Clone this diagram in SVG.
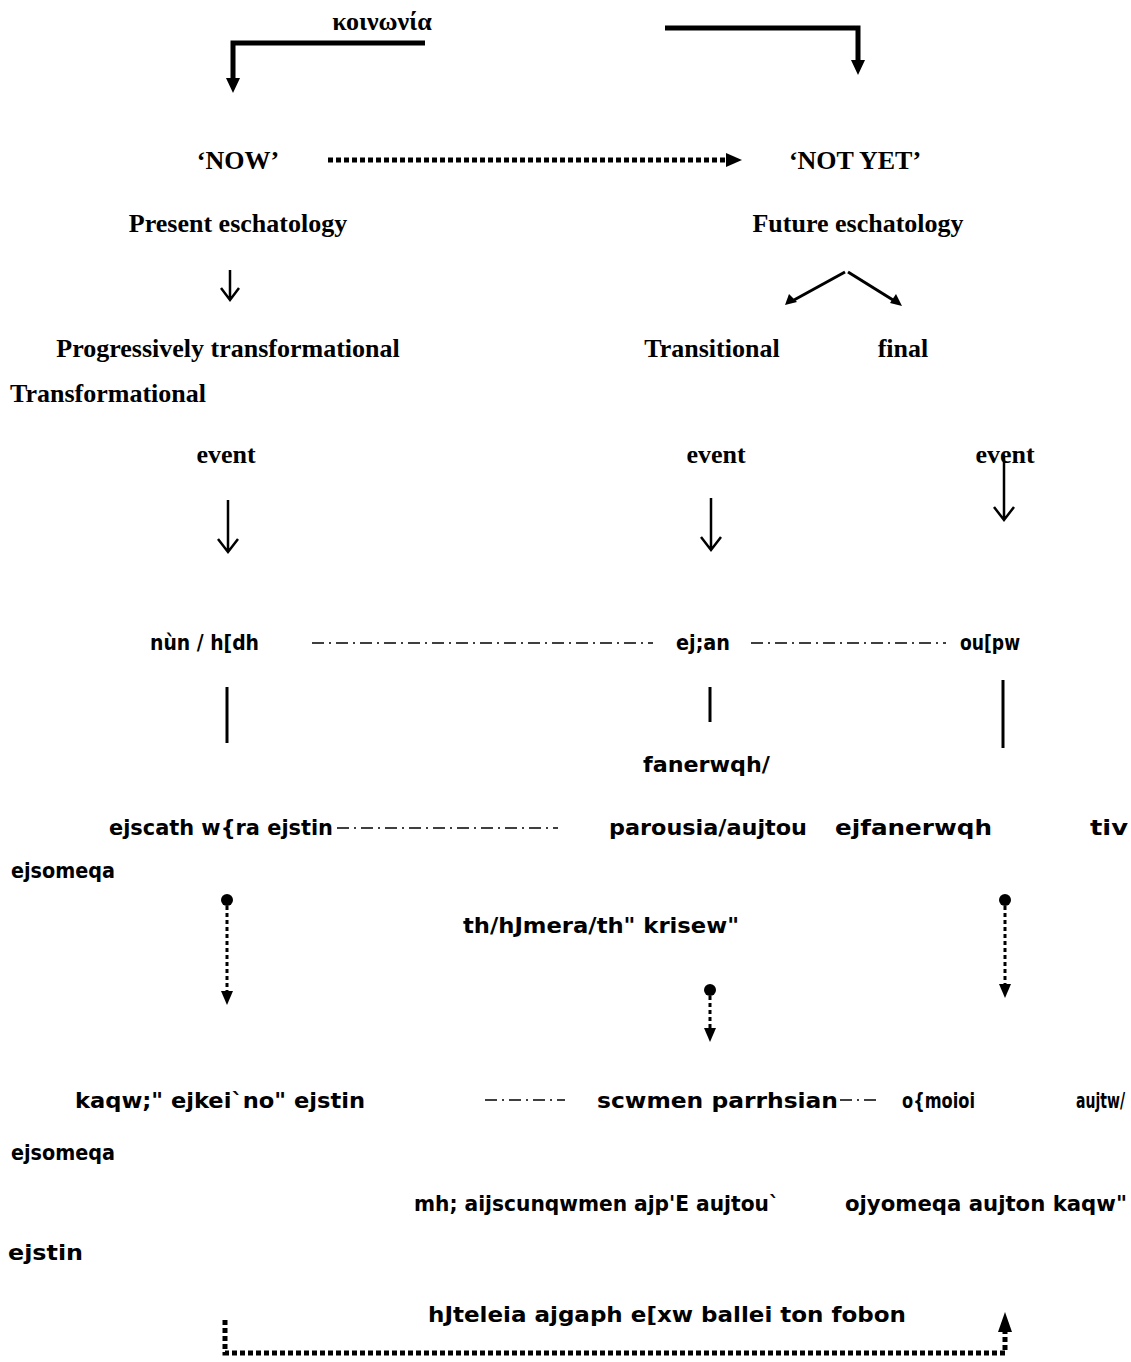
<svg xmlns="http://www.w3.org/2000/svg" width="1131" height="1362" viewBox="0 0 1131 1362">
<style>
.s{font-family:"Liberation Serif","Times New Roman",serif;font-weight:bold;font-size:26px;fill:#000}
.g{font-family:"DejaVu Sans Condensed","Liberation Sans",sans-serif;font-weight:bold;font-size:22px;fill:#000}
.thick{fill:none;stroke:#000;stroke-width:5}
.thin{fill:none;stroke:#000;stroke-width:2.5}
.dd{fill:none;stroke:#000;stroke-width:1.5;stroke-dasharray:12 5 2 5}
.dot{fill:none;stroke:#000;stroke-width:5;stroke-dasharray:5 3}
.dot3{fill:none;stroke:#000;stroke-width:3;stroke-dasharray:4 3}
.bar{fill:none;stroke:#000;stroke-width:3}
</style>
<rect width="1131" height="1362" fill="#fff"/>

<g id="connectors">
  <path class="thick" d="M425,43 H233 V80"/>
  <path d="M226,78 L240,78 L233,93 Z"/>
  <path class="thick" d="M665,28 H858 V62"/>
  <path d="M851,60 L865,60 L858,75 Z"/>
  <path class="dot" d="M328,160 H728"/>
  <path d="M726,153 L742,160 L726,167 Z"/>
  <path class="thin" d="M230,270 V300 M221,288 L230,300 L239,288"/>
  <path class="bar" d="M845,272 L794,300"/>
  <path d="M785,305 L789,294 L797,302 Z"/>
  <path class="bar" d="M848,272 L893,300"/>
  <path d="M902,306 L890,303 L896,294 Z"/>
  <path class="thin" d="M228,500 V552 M218,539 L228,552 L238,539"/>
  <path class="thin" d="M711,498 V550 M701,537 L711,550 L721,537"/>
  <path class="thin" d="M1004,455 V520 M994,507 L1004,520 L1014,507"/>
  <path class="dd" d="M312,643 H653"/>
  <path class="dd" d="M751,643 H946"/>
  <path class="bar" d="M227,687 V743"/>
  <path class="bar" d="M710,687 V722"/>
  <path class="bar" d="M1003,680 V748"/>
  <path class="dd" d="M337,828 H558"/>
  <circle cx="227" cy="900" r="6"/>
  <path class="dot3" d="M227,906 V992"/>
  <path d="M221,991 L233,991 L227,1005 Z"/>
  <circle cx="1005" cy="900" r="6"/>
  <path class="dot3" d="M1005,906 V985"/>
  <path d="M999,984 L1011,984 L1005,998 Z"/>
  <circle cx="710" cy="990" r="6"/>
  <path class="dot3" d="M710,996 V1029"/>
  <path d="M704,1028 L716,1028 L710,1042 Z"/>
  <path class="dd" d="M485,1100 H565"/>
  <path class="dd" d="M840,1100 H878"/>
  <path class="dot" d="M225,1320 V1353 H1005 V1332"/>
  <path d="M998,1332 L1012,1332 L1005,1312 Z"/>
</g>

<g id="koinonia"><text class="s" x="382" y="30" text-anchor="middle">κοινωνία</text></g>
<g id="now"><text class="s" x="238" y="169" text-anchor="middle">‘NOW’</text></g>
<g id="notyet"><text class="s" x="855" y="169" text-anchor="middle">‘NOT YET’</text></g>
<g id="present"><text class="s" x="238" y="232" text-anchor="middle">Present eschatology</text></g>
<g id="future"><text class="s" x="858" y="232" text-anchor="middle">Future eschatology</text></g>
<g id="progressive"><text class="s" x="228" y="357" text-anchor="middle">Progressively transformational</text></g>
<g id="transitional"><text class="s" x="712" y="357" text-anchor="middle">Transitional</text></g>
<g id="final"><text class="s" x="903" y="357" text-anchor="middle">final</text></g>
<g id="transformational"><text class="s" x="10" y="402">Transformational</text></g>
<g id="event1"><text class="s" x="226" y="463" text-anchor="middle">event</text></g>
<g id="event2"><text class="s" x="716" y="463" text-anchor="middle">event</text></g>
<g id="event3"><text class="s" x="1005" y="463" text-anchor="middle">event</text></g>

<g id="nun"><text class="g" x="150" y="650" textLength="109" lengthAdjust="spacingAndGlyphs">nùn / h[dh</text></g>
<g id="ean"><text class="g" x="676" y="650" textLength="54" lengthAdjust="spacingAndGlyphs">ej;an</text></g>
<g id="oupw"><text class="g" x="960" y="650" textLength="60" lengthAdjust="spacingAndGlyphs">ou[pw</text></g>
<g id="fanerwqh"><text class="g" x="643" y="772" textLength="127" lengthAdjust="spacingAndGlyphs">fanerwqh/</text></g>
<g id="eschath"><text class="g" x="109" y="835" textLength="224" lengthAdjust="spacingAndGlyphs">ejscath w{ra ejstin</text></g>
<g id="parousia"><text class="g" x="609" y="835" textLength="198" lengthAdjust="spacingAndGlyphs">parousia/aujtou</text></g>
<g id="efanerwqh"><text class="g" x="835" y="835" textLength="157" lengthAdjust="spacingAndGlyphs">ejfanerwqh</text></g>
<g id="tiv"><text class="g" x="1090" y="835" textLength="38" lengthAdjust="spacingAndGlyphs">tiv</text></g>
<g id="esomeqa1"><text class="g" x="11" y="878" textLength="104" lengthAdjust="spacingAndGlyphs">ejsomeqa</text></g>
<g id="hmera"><text class="g" x="463" y="933" textLength="276" lengthAdjust="spacingAndGlyphs">th/hJmera/th" krisew"</text></g>
<g id="kaqws"><text class="g" x="75" y="1108" textLength="290" lengthAdjust="spacingAndGlyphs">kaqw;" ejkei`no" ejstin</text></g>
<g id="parrhsian"><text class="g" x="597" y="1108" textLength="241" lengthAdjust="spacingAndGlyphs">scwmen parrhsian</text></g>
<g id="omoioi"><text class="g" x="902" y="1108" textLength="73" lengthAdjust="spacingAndGlyphs">o{moioi</text></g>
<g id="autw"><text class="g" x="1076" y="1108" textLength="49" lengthAdjust="spacingAndGlyphs">aujtw/</text></g>
<g id="esomeqa2"><text class="g" x="11" y="1160" textLength="104" lengthAdjust="spacingAndGlyphs">ejsomeqa</text></g>
<g id="aiscunqwmen"><text class="g" x="414" y="1211" textLength="365" lengthAdjust="spacingAndGlyphs">mh; aijscunqwmen ajp'E aujtou`</text></g>
<g id="oyomeqa"><text class="g" x="845" y="1211" textLength="282" lengthAdjust="spacingAndGlyphs">ojyomeqa  aujton  kaqw"</text></g>
<g id="estin"><text class="g" x="8" y="1260" textLength="75" lengthAdjust="spacingAndGlyphs">ejstin</text></g>
<g id="teleia"><text class="g" x="428" y="1322" textLength="478" lengthAdjust="spacingAndGlyphs">hJteleia ajgaph e[xw ballei ton fobon</text></g>
</svg>
